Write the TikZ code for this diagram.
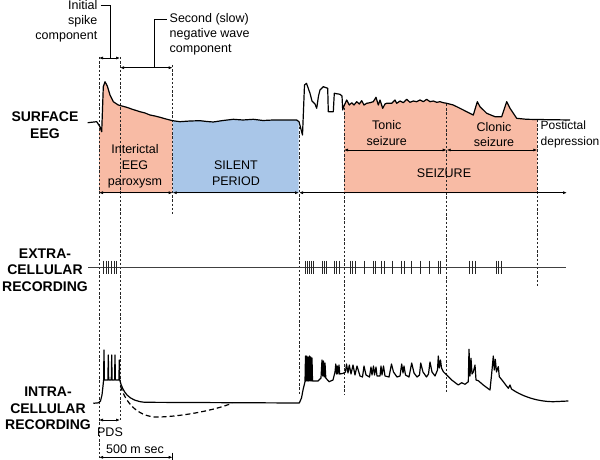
\documentclass[tikz,border=0pt]{standalone}
\usepackage{fontspec}
\setmainfont{Liberation Sans}
\usetikzlibrary{arrows.meta}
\definecolor{pinkf}{HTML}{F8BBA5}
\definecolor{bluef}{HTML}{A9C6E8}
\begin{document}
\begin{tikzpicture}[x=1pt,y=-1pt,
  trace/.style={line width=1.2pt,line join=round,black},
  guide/.style={dash pattern=on 2.4pt off 1.8pt,line width=0.55pt,black!85},
  dimarrow/.style={line width=0.7pt,{Latex[length=4pt,width=3pt]}-{Latex[length=4pt,width=3pt]}},
  leader/.style={line width=0.7pt},
  lbl/.style={font=\fontsize{12.5}{15.8}\selectfont,align=center,inner sep=0pt},
  head/.style={font=\fontsize{14}{16.5}\selectfont\bfseries,align=center,inner sep=0pt},
  spk/.style={line width=0.7pt,black!85}]
\useasboundingbox (0,0) rectangle (600,460);

% fills
\fill[pinkf] (99,193) -- (99,124) -- (100,126.7) -- (101.7,131.7) -- (103.3,86.7) -- (105,81.7) -- (107.3,86) -- (110,95) -- (113.3,101.7) -- (118.3,105) -- (126.7,107.3) -- (133,109.5) -- (140,111.7) -- (145,113) -- (150,115) -- (155,116) -- (160,117.3) -- (166,119) -- (172.7,120.7) -- (172.7,193) -- cycle;
\fill[bluef] (172.7,193) -- (172.7,120.7) -- (180,121.7) -- (190,121) -- (200,120.7) -- (207,121.5) -- (213.3,122) -- (223,120.5) -- (233.3,119.3) -- (243,120) -- (253.3,119.3) -- (263,120.5) -- (273.3,120) -- (285,120) -- (296.7,120) -- (298.5,121.5) -- (298.5,193) -- cycle;
\fill[pinkf] (344,193) -- (344,106) -- (346.7,100) -- (349.3,105) -- (351.7,102.7) -- (354,105) -- (356.7,101.7) -- (359.3,104) -- (361.7,100.7) -- (364,105) -- (366.7,103.3) -- (370,102.7) -- (373.3,101.7) -- (376,97.3) -- (378.3,105) -- (380,100) -- (382.7,108.3) -- (385,104) -- (386.7,103.3) -- (391.7,103.3) -- (395,100) -- (396.7,103.3) -- (400,101) -- (403.3,102.7) -- (406.7,99.3) -- (410,102.3) -- (413.3,101) -- (416.7,101.7) -- (420,100) -- (423.3,101.7) -- (426.7,99.3) -- (430,101.7) -- (433.3,101) -- (436.7,102.3) -- (440,101.7) -- (443.3,102.7) -- (446.7,103.3) -- (453.3,105) -- (460,108.3) -- (466.7,111.7) -- (473.3,115) -- (477.3,101.7) -- (480,106.7) -- (486.7,113.3) -- (495,116.7) -- (501.7,116.7) -- (506.7,101.7) -- (510,108.3) -- (516.7,118.3) -- (526.7,119.3) -- (537.3,119.5) -- (537.3,193) -- cycle;

% guides
\draw[guide] (99,57) -- (99,460);
\draw[guide] (120,57) -- (120,420);
\draw[guide] (172.7,65) -- (172.7,214);
\draw[guide] (299,127) -- (299,395);
\draw[guide] (344,108) -- (344,394);
\draw[guide] (446.7,104) -- (446.7,392);
\draw[guide] (537.3,120) -- (537.3,286);

% surface EEG trace
\draw[trace] (87.7,122.7) -- (96.7,121.7) -- (100,126.7) -- (101.7,131.7) -- (103.3,86.7) -- (105,81.7) -- (107.3,86) -- (110,95) -- (113.3,101.7) -- (118.3,105) -- (126.7,107.3) -- (133,109.5) -- (140,111.7) -- (145,113) -- (150,115) -- (155,116) -- (160,117.3) -- (166,119) -- (172.7,120.7)
 -- (180,121.7) -- (190,121) -- (200,120.7) -- (207,121.5) -- (213.3,122) -- (223,120.5) -- (233.3,119.3) -- (243,120) -- (253.3,119.3) -- (263,120.5) -- (273.3,120) -- (285,120) -- (296.7,120) -- (299,121.7)
 -- (302.5,135) -- (304.5,85) -- (306.5,83.3) -- (310,93.3) -- (312,101) -- (315,104) -- (316.7,108.3) -- (318.5,96) -- (320,90) -- (323.3,86.7) -- (327.7,88.3) -- (328.3,111.7) -- (333.3,111.7) -- (334.3,93.3) -- (340,94.3) -- (342,96) -- (342.7,110)
 -- (344,106) -- (346.7,100) -- (349.3,105) -- (351.7,102.7) -- (354,105) -- (356.7,101.7) -- (359.3,104) -- (361.7,100.7) -- (364,105) -- (366.7,103.3) -- (370,102.7) -- (373.3,101.7) -- (376,97.3) -- (378.3,105) -- (380,100) -- (382.7,108.3) -- (385,104) -- (386.7,103.3) -- (391.7,103.3) -- (395,100) -- (396.7,103.3) -- (400,101) -- (403.3,102.7) -- (406.7,99.3) -- (410,102.3) -- (413.3,101) -- (416.7,101.7) -- (420,100) -- (423.3,101.7) -- (426.7,99.3) -- (430,101.7) -- (433.3,101) -- (436.7,102.3) -- (440,101.7) -- (443.3,102.7) -- (446.7,103.3)
 -- (453.3,105) -- (460,108.3) -- (466.7,111.7) -- (473.3,115) -- (477.3,101.7) -- (480,106.7) -- (486.7,113.3) -- (495,116.7) -- (501.7,116.7) -- (506.7,101.7) -- (510,108.3) -- (516.7,118.3) -- (526.7,119.3) -- (537.3,119.5) -- (570,120);

% dimension arrows and leaders
\draw[dimarrow] (99,58) -- (120,58);
\draw[dimarrow] (120,67.7) -- (172.7,67.7);
\draw[leader] (100.5,5) -- (110,5) -- (110,58);
\draw[leader] (166.7,19) -- (154.3,19) -- (154.3,67.7);
\draw[dimarrow] (99,192.7) -- (172.7,192.7);
\draw[dimarrow] (172.7,192.7) -- (299,192.7);
\draw[dimarrow] (299,192.7) -- (567,192.7);
\draw[dimarrow] (344,150) -- (446.7,150);
\draw[dimarrow] (446.7,150) -- (537.3,150);
\draw[dimarrow] (99,420) -- (120,420);
\draw[dimarrow] (99,457.3) -- (172.7,457.3);
\draw[leader] (172.7,452.5) -- (172.7,460);

% extracellular
\draw[line width=0.8pt,black!75] (88,267.7) -- (566,267.7);
\foreach \x in {103.3,106,108.7,111.3,114,116.7,
  305,307,309,311,313,322.3,324.5,326.7,334.3,336.8,339.3,350,352.8,355.7,364,
  373.3,375.7,381.7,384,392.7,401.7,404,411.7,420.7,429.3,438.3,440.7,
  469.3,472.2,475,496,498.8,501.7}
  \draw[spk] (\x,260.5) -- (\x,274);

% intracellular
\draw[trace] (93.3,403.3) -- (98.5,402.8) -- (100.5,401) -- (102,395) -- (103,386) -- (103.6,380) -- (104,350) -- (104.4,380) -- (107.9,380) -- (108.3,355) -- (108.7,380) -- (111.3,380) -- (111.7,355) -- (112.1,380) -- (114.6,380) -- (115,355) -- (115.4,380) -- (118.9,380) -- (119.3,360) -- (119.7,380) .. controls (123,392) and (128,401) .. (145,402.3) -- (299.3,403)
 -- (301.5,398) -- (303,390) -- (305,381.7) -- (305.5,356) -- (306,381) -- (306.8,356) -- (307.3,381) -- (308.1,357) -- (308.6,381) -- (309.4,356) -- (309.9,381) -- (310.7,357) -- (311.2,381) -- (312,358) -- (312.5,381) -- (318,381) -- (321,378) -- (322,360) -- (322.8,376) -- (323.5,361) -- (324.3,377) -- (325,363) -- (325.8,378) -- (329,381.7) -- (333,380) -- (335,372) -- (335.8,364) -- (336.5,374) -- (337.3,366) -- (338,374) -- (339,365) -- (339.7,374) -- (343.3,373.3)
 -- (345.5,372) -- (346.5,364) -- (348,373) -- (349.3,365) -- (351,374) -- (353,365) -- (355,375) -- (357,366) -- (360,376) -- (362.5,377) -- (364,366) -- (366,375) -- (369.5,377) -- (371,367) -- (372,375) -- (373.5,366) -- (374.5,375) -- (376,367) -- (377,376) -- (380,376) -- (381,366) -- (382,375) -- (383.5,366) -- (385,376) -- (389,377) -- (391.5,364) -- (393.5,372) -- (397,377) -- (400,376) -- (401.7,364) -- (403,373) -- (404,366) -- (405.5,375) -- (409,377) -- (411.7,363) -- (414,373) -- (417,377) -- (419.5,375) -- (420.7,363) -- (423,372) -- (426.5,377) -- (428.5,374) -- (430,362) -- (432,372) -- (435,376) -- (437.5,370) -- (438.3,356) -- (439.3,368) -- (440.5,360) -- (441.5,368) -- (443.3,371.7)
 -- (446.7,375) -- (451.7,380) -- (458.3,385) -- (461.7,382.7) -- (465,384.3) -- (468.3,381.7) -- (469,349.3) -- (470,376) -- (471,358.3) -- (472,374) -- (473.3,372) -- (475,365) -- (476,380) -- (478.3,380.7) -- (483.3,385) -- (490,390) -- (491.7,373.3) -- (493.3,356) -- (494.3,370) -- (495.3,359.3) -- (496.5,372) -- (498.3,366.7) -- (499.3,376.7) -- (503.3,381.7) -- (508.3,388.3) -- (510,385) -- (511.5,389) .. controls (520,395) and (535,401.5) .. (553.3,401.7) -- (568.3,401);
\draw[line width=1.2pt,dash pattern=on 5pt off 3pt] (120.5,386) .. controls (128,410) and (145,418) .. (160,417) .. controls (185,416) and (215,410) .. (232,403.3);

% labels
\node[lbl,align=right,anchor=north east,font=\fontsize{12.5}{15}\selectfont] (init) at (97.5,0) {Initial\\spike\\component};
\node[lbl,align=left,anchor=north west,font=\fontsize{12.5}{15}\selectfont] (second) at (169.5,13.5) {Second (slow)\\negative wave\\component};
\node[lbl] (interictal) at (135,166.5) {Interictal\\EEG\\paroxysm};
\node[lbl] (silent) at (236,173.5) {SILENT\\PERIOD};
\node[lbl] (tonic) at (386.7,133) {Tonic\\seizure};
\node[lbl] (clonic) at (494,134.5) {Clonic\\seizure};
\node[lbl,align=left,anchor=west,font=\fontsize{12}{15.5}\selectfont] (post) at (540.5,134.5) {Postictal\\depression};
\node[lbl] (seizure) at (444,173) {SEIZURE};
\node[head] (surf) at (45,125) {SURFACE\\EEG};
\node[head] (extra) at (45,270) {EXTRA-\\CELLULAR\\RECORDING};
\node[head] (intra) at (48,408.5) {INTRA-\\CELLULAR\\RECORDING};
\node[lbl] (pds) at (110,432) {PDS};
\node[lbl] (ms) at (135,449.5) {500 m sec};
\end{tikzpicture}
\end{document}
